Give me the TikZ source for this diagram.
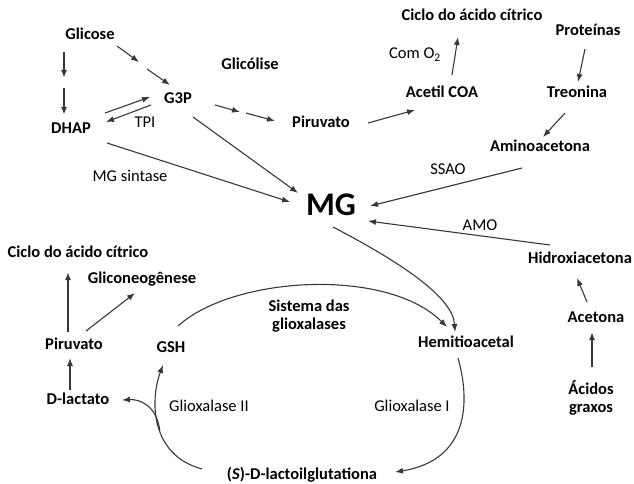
\documentclass[tikz,border=0pt]{standalone}
\usepackage{fontspec}
\setmainfont{Carlito}
\usetikzlibrary{arrows.meta,calc}
\begin{document}
\begin{tikzpicture}[x=1pt,y=-1pt,
  lbl/.style={font=\fontsize{16.5}{18}\selectfont\bfseries, inner sep=0pt, text height=11pt, text depth=3pt},
  enz/.style={font=\fontsize{16.5}{18}\selectfont, inner sep=0pt, text height=11pt, text depth=3pt},
  arr/.style={draw=black!78, line width=1.1pt, -{Latex[length=8pt,width=6pt]}},
  heavyarr/.style={arr, line width=1.8pt}]
\useasboundingbox (0,0) rectangle (634,484);
% nodes
\node[lbl] (glc) at (90,36) {Glicose};
\node[lbl] (dhap) at (71,129) {DHAP};
\node[lbl] (g3p) at (178,100) {G3P};
\node[lbl] (glicolise) at (250,66) {Glicólise};
\node[enz] (tpi) at (145,124) {TPI};
\node[enz] (mgs) at (130,177) {MG sintase};
\node[lbl] (pir1) at (321,124) {Piruvato};
\node[lbl] (acetil) at (442,94) {Acetil COA};
\node[lbl] (ciclo1) at (472,17) {Ciclo do ácido cítrico};
\node[enz] (como2) at (415,55) {Com O\textsubscript{2}};
\node[lbl] (prot) at (588,32) {Proteínas};
\node[lbl] (treo) at (577,94) {Treonina};
\node[lbl] (amino) at (540,147) {Aminoacetona};
\node[enz] (ssao) at (448,170) {SSAO};
\node[font=\fontsize{33}{36}\selectfont\bfseries, inner sep=0pt] (mg) at (331,205) {MG};
\node[enz] (amo) at (480,226) {AMO};
\node[lbl] (hidroxi) at (580,259) {Hidroxiacetona};
\node[lbl] (acetona) at (596,318) {Acetona};
\node[lbl, align=center, text height=, text depth=] (acidos) at (591,398) {Ácidos\\graxos};
\node[lbl] (hemi) at (466,343) {Hemitioacetal};
\node[enz] (glx1) at (412,407) {Glioxalase I};
\node[lbl] (slac) at (302,475) {(\textit{S})-D-lactoilglutationa};
\node[lbl, align=center, text height=, text depth=] (sist) at (309,316) {Sistema das\\glioxalases};
\node[lbl] (gsh) at (171,348) {GSH};
\node[lbl] (pir2) at (74,345) {Piruvato};
\node[lbl] (dlac) at (78,400) {D-lactato};
\node[enz] (glx2) at (209,407) {Glioxalase II};
\node[lbl] (ciclo2) at (78,253) {Ciclo do ácido cítrico};
\node[lbl] (glicon) at (142,279) {Gliconeogênese};
% glycolysis
\draw[heavyarr] ([shift={(-26,16)}]glc.center) -- ([shift={(-26,42)}]glc.center);
\draw[heavyarr] ([shift={(-7,-41)}]dhap.center) -- ([shift={(-7,-14)}]dhap.center);
\draw[arr] ([shift={(27,10)}]glc.center) -- ([shift={(49,26)}]glc.center);
\draw[arr] ([shift={(-31,-31)}]g3p.center) -- ([shift={(-8,-15)}]g3p.center);
\draw[arr] ([shift={(34,-16)}]dhap.center) -- ([shift={(-28,-3)}]g3p.center);
\draw[arr] ([shift={(-27,5)}]g3p.center) -- ([shift={(35,-7)}]dhap.center);
\draw[arr] ([shift={(37,5)}]g3p.center) -- ([shift={(62,12)}]g3p.center);
\draw[arr] ([shift={(-75,-11)}]pir1.center) -- ([shift={(-46,-3)}]pir1.center);
\draw[arr] ([shift={(15,17)}]g3p.center) -- ([shift={(-33,-12)}]mg.center);
\draw[arr] ([shift={(36,14)}]dhap.center) -- ([shift={(-41,-3)}]mg.center);
% upper right
\draw[arr] ([shift={(47,-1)}]pir1.center) -- ([shift={(-27,16)}]acetil.center);
\draw[arr] ([shift={(10,-19)}]acetil.center) -- ([shift={(-14,20)}]ciclo1.center);
\draw[arr] ([shift={(-3,17)}]prot.center) -- ([shift={(1,-12)}]treo.center);
\draw[arr] ([shift={(-12,19)}]treo.center) -- ([shift={(3,-10)}]amino.center);
\draw[arr] ([shift={(-18,21)}]amino.center) -- ([shift={(39,1)}]mg.center);
\draw[arr] ([shift={(-30,-14)}]hidroxi.center) -- ([shift={(37,16)}]mg.center);
\draw[arr] ([shift={(-9,-16)}]acetona.center) -- ([shift={(-3,19)}]hidroxi.center);
\draw[heavyarr] ([shift={(1,-31)}]acidos.center) -- ([shift={(-4,14)}]acetona.center);
% glyoxalase system
\draw[arr] ([shift={(2,22)}]mg.center) .. controls +(67,35) and +(-2,-35) .. ([shift={(-11,-11)}]hemi.center);
\draw[arr] ([shift={(7,-22)}]gsh.center) .. controls +(55,-50) and +(-60,-60) .. ([shift={(-19,-16)}]hemi.center);
\draw[arr] ([shift={(-8,15)}]hemi.center) .. controls +(12,42) and +(75,-12) .. ([shift={(93,-3)}]slac.center);
\draw[arr] ([shift={(-100,-6)}]slac.center) .. controls +(-52,-14) and +(-13,35) .. coordinate[pos=0.45] (br) ([shift={(-8,17)}]gsh.center);
\draw[arr] (br) .. controls +(-3,-25) and +(18,-1) .. ([shift={(44,0)}]dlac.center);
% lower left
\draw[arr] ([shift={(-8,-10)}]dlac.center) -- ([shift={(-4,13)}]pir2.center);
\draw[heavyarr] ([shift={(-6,-13)}]pir2.center) -- ([shift={(-10,19)}]ciclo2.center);
\draw[arr] ([shift={(12,-14)}]pir2.center) -- ([shift={(-7,14)}]glicon.center);
\end{tikzpicture}
\end{document}
